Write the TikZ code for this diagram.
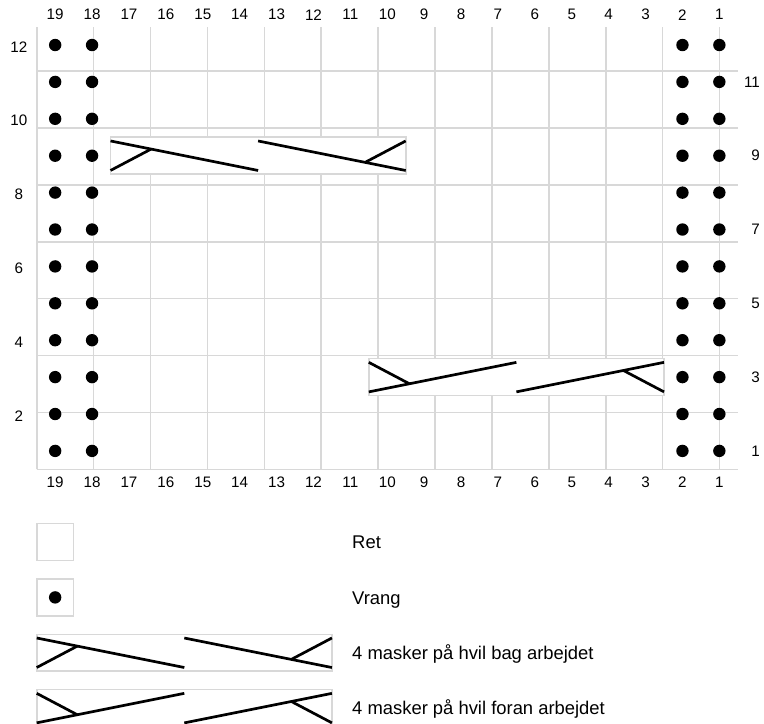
\documentclass[tikz,border=0pt]{standalone}
\usepackage{fontspec}
\setmainfont{Liberation Sans}
\usetikzlibrary{positioning}
\definecolor{gitter}{RGB}{216,216,216}
\tikzset{
  felt/.style={draw=gitter,line width=0.8pt},
  kabel/.style={line width=1.35pt},
  nr/.style={font=\fontsize{7.6}{9}\selectfont,inner sep=0pt},
  tekst/.style={font=\fontsize{9.2}{11}\selectfont,inner sep=0pt,anchor=base west},
}
% 8 masker: to krydsninger bag arbejdet
\newcommand{\bagpar}[2]{%
  \begin{scope}[shift={(#1,#2)}]
    \fill[white] (0,0) rectangle (8,1);
    \draw[felt] (0,0) rectangle (8,1);
    \draw[kabel] (0,.9) -- (4,.1);
    \draw[kabel] (0,.1) -- (1.1,.68);
    \draw[kabel] (4,.9) -- (8,.1);
    \draw[kabel] (8,.9) -- (6.9,.32);
  \end{scope}}
% 8 masker: to krydsninger foran arbejdet
\newcommand{\foranpar}[2]{%
  \begin{scope}[shift={(#1,#2)}]
    \fill[white] (0,0) rectangle (8,1);
    \draw[felt] (0,0) rectangle (8,1);
    \draw[kabel] (0,.1) -- (4,.9);
    \draw[kabel] (0,.9) -- (1.1,.32);
    \draw[kabel] (4,.1) -- (8,.9);
    \draw[kabel] (8,.1) -- (6.9,.68);
  \end{scope}}

\begin{document}
\begin{tikzpicture}[x=18.45pt,y=18.45pt]
  \useasboundingbox (-0.995,-6.90) rectangle (19.71,12.72);
  % diagram
  \draw[felt] (0,0) grid (19,12);
  \bagpar{2}{8}
  \foranpar{9}{2}
  \foreach \r in {1,...,12}
    \foreach \x in {0,1,17,18}
      \fill (\x+.5,\r-.5) circle (.168);
  % numre
  \foreach \c in {1,...,19} {
    \node[nr] (top\c) at (19.5-\c,12.32) {\c};
    \node[nr] (bund\c) at (19.5-\c,-0.36) {\c};
  }
  \foreach \r in {2,4,...,12}
    \node[nr] (ven\r) at (-0.485,\r-.55) {\r};
  \foreach \r in {1,3,...,11}
    \node[nr,anchor=east] (hoj\r) at (19.61,\r-.5) {\r};
  % forklaring
  \draw[felt] (0,-2.47) rectangle (1,-1.47);
  \draw[felt] (0,-3.97) rectangle (1,-2.97);
  \fill (.5,-3.47) circle (.168);
  \bagpar{0}{-5.47}
  \foranpar{0}{-6.97}
  \node[tekst] (ret) at (8.54,-2.15) {Ret};
  \node[tekst] (vrang) at (8.54,-3.65) {Vrang};
  \node[tekst] (bag) at (8.54,-5.15) {4 masker på hvil bag arbejdet};
  \node[tekst] (foran) at (8.54,-6.65) {4 masker på hvil foran arbejdet};
\end{tikzpicture}
\end{document}
